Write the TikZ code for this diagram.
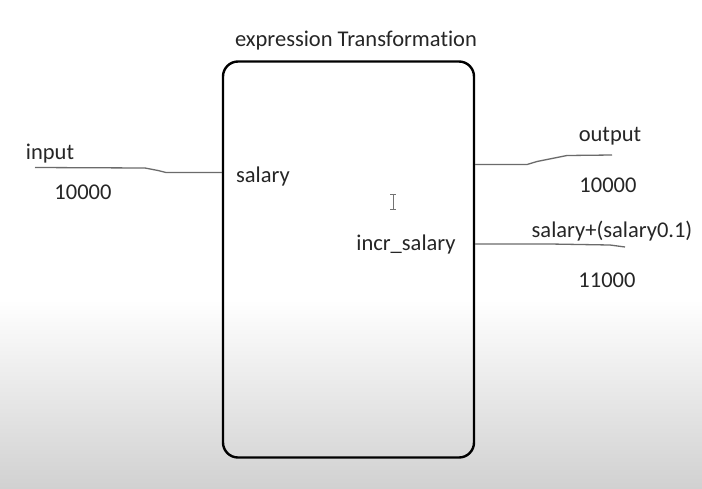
\documentclass[tikz,border=0pt]{standalone}
\usepackage{fontspec}
\setmainfont[Ligatures={NoCommon,NoRequired,NoContextual}]{Carlito}
\begin{document}
\begin{tikzpicture}[x=1pt,y=-1pt,
  lbl/.style={inner sep=0pt, text=black!85, font=\fontsize{22.5}{24}\selectfont},
  wire/.style={draw=black!58, line width=1.3pt, line join=round},
  boxst/.style={draw=black, line width=2.4pt, rounded corners=15pt, minimum width=251pt, minimum height=396pt, inner sep=0pt}]
\useasboundingbox (0,0) rectangle (702,488);
\fill[white] (0,0) rectangle (702,300);
\shade[top color=white, bottom color=black!18] (0,299) rectangle (702,488);
\node[boxst] (box) at (348.5,259.5) {};
\node[lbl] (title) at (356,41) {expression Transformation};
\node[lbl] (inlbl) at (50,154) {input};
\node[lbl] (inval) at (83,192) {10000};
\node[lbl] (sal) at (263,176) {salary};
\node[lbl] (incr) at (406,244) {incr\_salary};
\node[lbl] (outlbl) at (610,136) {output};
\node[lbl] (outval) at (608,185) {10000};
\node[lbl] (expr) at (612,231) {salary+(salary0.1)};
\node[lbl] (newval) at (607,280) {11000};
\coordinate (inA) at (35,167.5);
\coordinate (outA) at (612,155);
\coordinate (incrA) at (625,247);
\draw[wire] (inA) -- (145,168) -- (158,170.5) -- (166,172.5) -- (box.west |- 0,172.5);
\draw[wire] (box.east |- 0,164.5) -- (527,164.5) -- (537,161.5) -- (552,158.5) -- (567,155.5) -- (outA);
\draw[wire] (box.east |- 0,244) -- (550,244) -- (610,245) -- (incrA);
% text cursor
\draw[black!55, line width=0.9pt] (393,194.5) -- (393,209.5) (390,194.5) -- (396,194.5) (390,209.5) -- (396,209.5);
\end{tikzpicture}
\end{document}
